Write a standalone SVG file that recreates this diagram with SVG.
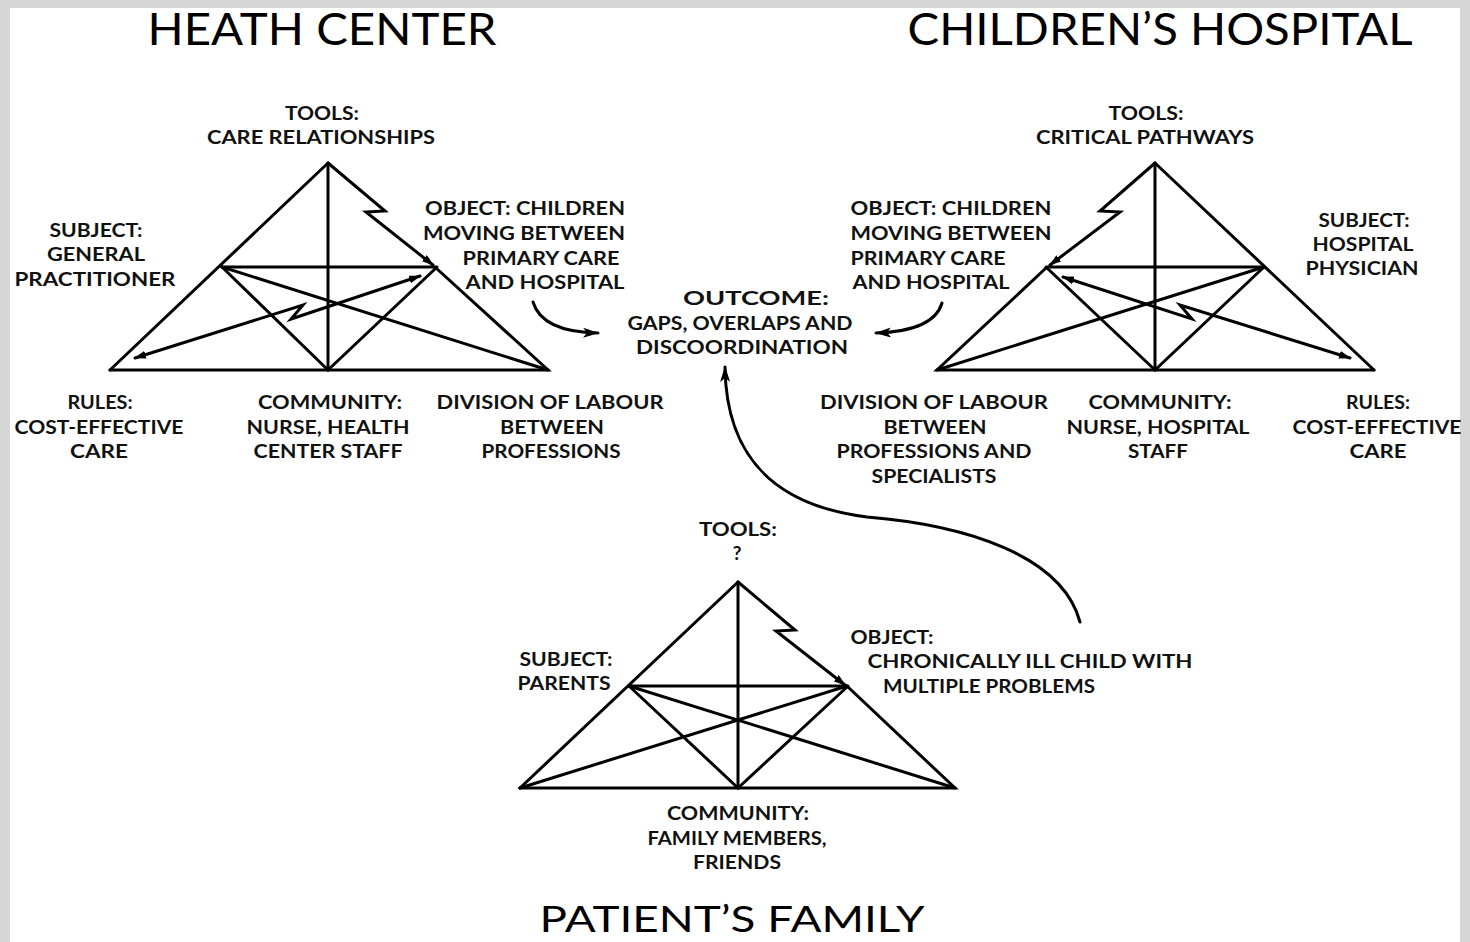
<svg xmlns="http://www.w3.org/2000/svg" width="1470" height="942" viewBox="0 0 1470 942">
  <style>
    .ln { fill: none; stroke: #000; stroke-width: 3; stroke-linejoin: miter; stroke-linecap: round; }
    .cv { fill: none; stroke: #000; stroke-width: 3; stroke-linecap: round; }
    .lbl { font-family: Lato, "Liberation Sans", sans-serif; font-size: 19px; font-weight: 700; fill: #111; text-anchor: middle; }
    .ttl { font-family: Lato, "Liberation Sans", sans-serif; font-size: 44px; font-weight: 400; fill: #000; text-anchor: middle; }
  </style>
  <defs>
    <marker id="arr" viewBox="0 0 12 8" refX="11" refY="4" markerWidth="12" markerHeight="8" markerUnits="userSpaceOnUse" orient="auto-start-reverse">
      <path d="M0,0 L12,4 L0,8 z" fill="#000"/>
    </marker>
    <marker id="arr-lg" viewBox="0 0 16 10" refX="15" refY="5" markerWidth="16" markerHeight="10" markerUnits="userSpaceOnUse" orient="auto">
      <path d="M0,0 L16,5 L0,10 L4,5 z" fill="#000"/>
    </marker>
  </defs>

  <!-- page -->
  <rect x="0" y="0" width="1470" height="942" fill="#d6d6d6"/>
  <rect x="10" y="8" width="1450" height="934" fill="#fff"/>

  <!-- Health centre activity system -->
  <g id="health-center">
    <text class="ttl" x="322" y="45" textLength="349" lengthAdjust="spacingAndGlyphs">HEATH CENTER</text>
    <path class="ln" d="M110,370 L328,163"/>
    <path class="ln" d="M328,163 L385,211 L366,212 L433,265" marker-end="url(#arr)"/>
    <path class="ln" d="M436,268 L548,370 L110,370"/>
    <path class="ln" d="M222,267 L437,267"/>
    <path class="ln" d="M328,163 L328,370"/>
    <path class="ln" d="M222,267 L328,370 L436,268"/>
    <path class="ln" d="M222,267 L548,370"/>
    <path class="ln" d="M135,358 L303,305 L291,319 L420,276" marker-start="url(#arr)" marker-end="url(#arr)"/>
    <text class="lbl" x="322" y="120" textLength="74" lengthAdjust="spacingAndGlyphs">TOOLS:</text>
    <text class="lbl" x="321" y="144" textLength="228" lengthAdjust="spacingAndGlyphs">CARE RELATIONSHIPS</text>
    <text class="lbl" x="96" y="237" textLength="93" lengthAdjust="spacingAndGlyphs">SUBJECT:</text>
    <text class="lbl" x="96" y="261" textLength="98" lengthAdjust="spacingAndGlyphs">GENERAL</text>
    <text class="lbl" x="95" y="286" textLength="161" lengthAdjust="spacingAndGlyphs">PRACTITIONER</text>
    <text class="lbl" x="525" y="215" textLength="200" lengthAdjust="spacingAndGlyphs">OBJECT: CHILDREN</text>
    <text class="lbl" x="524" y="240" textLength="202" lengthAdjust="spacingAndGlyphs">MOVING BETWEEN</text>
    <text class="lbl" x="541" y="265" textLength="157" lengthAdjust="spacingAndGlyphs">PRIMARY CARE</text>
    <text class="lbl" x="545" y="289" textLength="159" lengthAdjust="spacingAndGlyphs">AND HOSPITAL</text>
    <text class="lbl" x="100" y="409" textLength="65" lengthAdjust="spacingAndGlyphs">RULES:</text>
    <text class="lbl" x="99" y="434" textLength="169" lengthAdjust="spacingAndGlyphs">COST-EFFECTIVE</text>
    <text class="lbl" x="99" y="458" textLength="58" lengthAdjust="spacingAndGlyphs">CARE</text>
    <text class="lbl" x="330" y="409" textLength="144" lengthAdjust="spacingAndGlyphs">COMMUNITY:</text>
    <text class="lbl" x="328" y="434" textLength="163" lengthAdjust="spacingAndGlyphs">NURSE, HEALTH</text>
    <text class="lbl" x="328" y="458" textLength="149" lengthAdjust="spacingAndGlyphs">CENTER STAFF</text>
    <text class="lbl" x="550" y="409" textLength="227" lengthAdjust="spacingAndGlyphs">DIVISION OF LABOUR</text>
    <text class="lbl" x="552" y="434" textLength="104" lengthAdjust="spacingAndGlyphs">BETWEEN</text>
    <text class="lbl" x="551" y="458" textLength="139" lengthAdjust="spacingAndGlyphs">PROFESSIONS</text>
  </g>

  <!-- Children's hospital activity system -->
  <g id="childrens-hospital">
    <text class="ttl" x="1160" y="45" textLength="505" lengthAdjust="spacingAndGlyphs">CHILDREN’S HOSPITAL</text>
    <path class="ln" d="M1374,370 L1155,163"/>
    <path class="ln" d="M1155,163 L1100,211 L1120,212 L1050,265" marker-end="url(#arr)"/>
    <path class="ln" d="M1046,268 L937,370 L1374,370"/>
    <path class="ln" d="M1046,267 L1264,267"/>
    <path class="ln" d="M1155,163 L1155,370"/>
    <path class="ln" d="M1264,267 L1155,370 L1047,268"/>
    <path class="ln" d="M1264,267 L937,370"/>
    <path class="ln" d="M1350,358 L1180,305 L1192,319 L1063,277" marker-start="url(#arr)" marker-end="url(#arr)"/>
    <text class="lbl" x="1146" y="120" textLength="75" lengthAdjust="spacingAndGlyphs">TOOLS:</text>
    <text class="lbl" x="1145" y="144" textLength="218" lengthAdjust="spacingAndGlyphs">CRITICAL PATHWAYS</text>
    <text class="lbl" x="951" y="215" textLength="201" lengthAdjust="spacingAndGlyphs">OBJECT: CHILDREN</text>
    <text class="lbl" x="951" y="240" textLength="201" lengthAdjust="spacingAndGlyphs">MOVING BETWEEN</text>
    <text class="lbl" x="928" y="265" textLength="155" lengthAdjust="spacingAndGlyphs">PRIMARY CARE</text>
    <text class="lbl" x="931" y="289" textLength="157" lengthAdjust="spacingAndGlyphs">AND HOSPITAL</text>
    <text class="lbl" x="1364" y="227" textLength="91" lengthAdjust="spacingAndGlyphs">SUBJECT:</text>
    <text class="lbl" x="1363" y="251" textLength="101" lengthAdjust="spacingAndGlyphs">HOSPITAL</text>
    <text class="lbl" x="1362" y="275" textLength="113" lengthAdjust="spacingAndGlyphs">PHYSICIAN</text>
    <text class="lbl" x="934" y="409" textLength="228" lengthAdjust="spacingAndGlyphs">DIVISION OF LABOUR</text>
    <text class="lbl" x="935" y="434" textLength="103" lengthAdjust="spacingAndGlyphs">BETWEEN</text>
    <text class="lbl" x="934" y="458" textLength="195" lengthAdjust="spacingAndGlyphs">PROFESSIONS AND</text>
    <text class="lbl" x="934" y="483" textLength="125" lengthAdjust="spacingAndGlyphs">SPECIALISTS</text>
    <text class="lbl" x="1160" y="409" textLength="143" lengthAdjust="spacingAndGlyphs">COMMUNITY:</text>
    <text class="lbl" x="1158" y="434" textLength="183" lengthAdjust="spacingAndGlyphs">NURSE, HOSPITAL</text>
    <text class="lbl" x="1158" y="458" textLength="60" lengthAdjust="spacingAndGlyphs">STAFF</text>
    <text class="lbl" x="1378" y="409" textLength="64" lengthAdjust="spacingAndGlyphs">RULES:</text>
    <text class="lbl" x="1377" y="434" textLength="169" lengthAdjust="spacingAndGlyphs">COST-EFFECTIVE</text>
    <text class="lbl" x="1378" y="458" textLength="57" lengthAdjust="spacingAndGlyphs">CARE</text>
  </g>

  <!-- Patient's family activity system -->
  <g id="patients-family">
    <text class="ttl" x="732" y="932" style="font-size:36px" textLength="385" lengthAdjust="spacingAndGlyphs">PATIENT’S FAMILY</text>
    <path class="ln" d="M520,788 L738,582"/>
    <path class="ln" d="M738,582 L795,630 L776,631 L845,685" marker-end="url(#arr)"/>
    <path class="ln" d="M848,687 L955,788 L520,788"/>
    <path class="ln" d="M629,686 L848,686"/>
    <path class="ln" d="M738,582 L738,788"/>
    <path class="ln" d="M629,686 L738,788 L847,687"/>
    <path class="ln" d="M629,686 L955,788"/>
    <path class="ln" d="M847,686 L520,788"/>
    <text class="lbl" x="738" y="536" textLength="78" lengthAdjust="spacingAndGlyphs">TOOLS:</text>
    <text class="lbl" x="737" y="560">?</text>
    <text class="lbl" x="566" y="666" textLength="93" lengthAdjust="spacingAndGlyphs">SUBJECT:</text>
    <text class="lbl" x="564" y="690" textLength="93" lengthAdjust="spacingAndGlyphs">PARENTS</text>
    <text class="lbl" x="892" y="644" textLength="83" lengthAdjust="spacingAndGlyphs">OBJECT:</text>
    <text class="lbl" x="1030" y="668" textLength="325" lengthAdjust="spacingAndGlyphs">CHRONICALLY ILL CHILD WITH</text>
    <text class="lbl" x="989" y="693" textLength="212" lengthAdjust="spacingAndGlyphs">MULTIPLE PROBLEMS</text>
    <text class="lbl" x="738" y="820" textLength="142" lengthAdjust="spacingAndGlyphs">COMMUNITY:</text>
    <text class="lbl" x="737" y="845" textLength="179" lengthAdjust="spacingAndGlyphs">FAMILY MEMBERS,</text>
    <text class="lbl" x="737" y="869" textLength="88" lengthAdjust="spacingAndGlyphs">FRIENDS</text>
  </g>

  <!-- Shared outcome -->
  <g id="outcome">
    <text class="lbl" x="756" y="305" textLength="146" lengthAdjust="spacingAndGlyphs">OUTCOME:</text>
    <text class="lbl" x="740" y="330" textLength="225" lengthAdjust="spacingAndGlyphs">GAPS, OVERLAPS AND</text>
    <text class="lbl" x="742" y="354" textLength="212" lengthAdjust="spacingAndGlyphs">DISCOORDINATION</text>
  </g>

  <!-- Connectors between the systems and the outcome -->
  <g id="connectors">
    <path class="cv" d="M533,302 Q542,332 598,333" marker-end="url(#arr-lg)"/>
    <path class="cv" d="M942,303 Q934,331 876,333" marker-end="url(#arr-lg)"/>
    <path class="cv" d="M1080,622 C1062,555 965,525 867,517 C772,505 726,455 725,367" marker-end="url(#arr-lg)"/>
  </g>
</svg>
